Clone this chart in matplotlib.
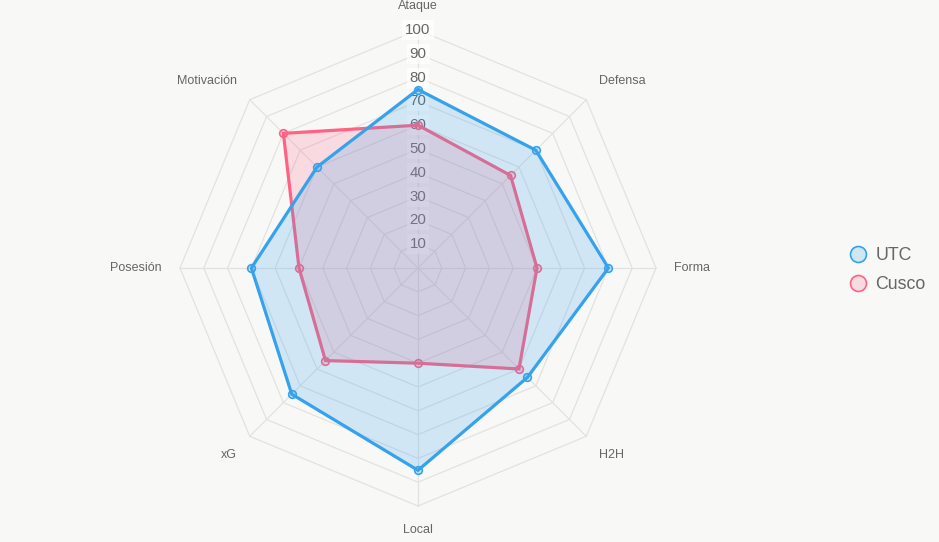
import numpy as np
import matplotlib
matplotlib.use("Agg")
import matplotlib.pyplot as plt
from matplotlib.lines import Line2D

plt.rcParams["font.family"] = ["Liberation Sans", "DejaVu Sans"]

categories = ["Ataque", "Defensa", "Forma", "H2H", "Local", "xG", "Posesión", "Motivación"]
utc_values = [75, 70, 80, 65, 85, 75, 70, 60]
cusco_values = [60, 55, 50, 60, 40, 55, 50, 80]
tick_values = [10, 20, 30, 40, 50, 60, 70, 80, 90, 100]
series_names = ["UTC", "Cusco"]

W, H = 939, 542
cx, cy = 418, 268
scale = 2.38  # px per unit

fig = plt.figure(figsize=(W / 100, H / 100), dpi=100)
bg = "#f8f8f7"
fig.patch.set_facecolor(bg)
ax = fig.add_axes([0, 0, 1, 1])
ax.set_facecolor(bg)
ax.set_xlim(-cx / scale, (W - cx) / scale)
ax.set_ylim(-(H - cy) / scale, cy / scale)
ax.axis("off")

n = len(categories)
angles = np.deg2rad(90 - 360 / n * np.arange(n))
cosA, sinA = np.cos(angles), np.sin(angles)

grid_col = "#e2e2e2"
for t in tick_values:
    xs = np.append(t * cosA, t * cosA[0])
    ys = np.append(t * sinA, t * sinA[0])
    ax.plot(xs, ys, color=grid_col, lw=0.9, zorder=1)
for c, s in zip(cosA, sinA):
    ax.plot([0, 100 * c], [0, 100 * s], color=grid_col, lw=0.9, zorder=1)

# tick labels (drawn below datasets, as in the reference)
for t in tick_values:
    ax.text(0, t, str(t), ha="center", va="center", fontsize=10.8, color="#666666",
            zorder=1.5,
            bbox=dict(boxstyle="square,pad=0.2", fc=(1, 1, 1, 0.75), ec="none"))

def draw(vals, color, fill, z):
    v = np.array(vals, dtype=float)
    xs = np.append(v * cosA, v[0] * cosA[0])
    ys = np.append(v * sinA, v[0] * sinA[0])
    ax.fill(xs, ys, color=fill, zorder=z, lw=0)
    ax.plot(xs, ys, color=color, lw=2.3, zorder=z + 0.1, solid_joinstyle="miter")
    ax.plot(xs[:-1], ys[:-1], ls="none", marker="o", ms=5.5, mfc=fill,
            mec=color, mew=1.2, zorder=z + 0.2)

cusco_col = "#ff6384"
utc_col = "#36a2eb"
cusco_fill = (1.0, 0.388, 0.518, 0.2)
utc_fill = (0.212, 0.635, 0.922, 0.2)
draw(cusco_values, cusco_col, cusco_fill, 2)
draw(utc_values, utc_col, utc_fill, 3)

pad = 7.6
for lab, c, s in zip(categories, cosA, sinA):
    r = 100 + pad
    ha = "left" if c > 0.01 else ("right" if c < -0.01 else "center")
    va = "bottom" if s > 0.01 else ("top" if s < -0.01 else "center")
    ax.text(r * c, r * s, lab, ha=ha, va=va, fontsize=9, color="#666666", zorder=5)

handles = [
    Line2D([0], [0], ls="none", marker="o", ms=11.5, mfc=utc_fill, mec=utc_col, mew=1.2),
    Line2D([0], [0], ls="none", marker="o", ms=11.5, mfc=cusco_fill, mec=cusco_col, mew=1.2),
]
leg = fig.legend(handles, series_names, loc="center left", bbox_to_anchor=(831 / W, 1 - 270 / H),
                 frameon=False, fontsize=12.8, labelcolor="#666666", handletextpad=0.4,
                 labelspacing=0.7, handlelength=1.2)

fig.savefig("out.png", dpi=100, facecolor=bg)
